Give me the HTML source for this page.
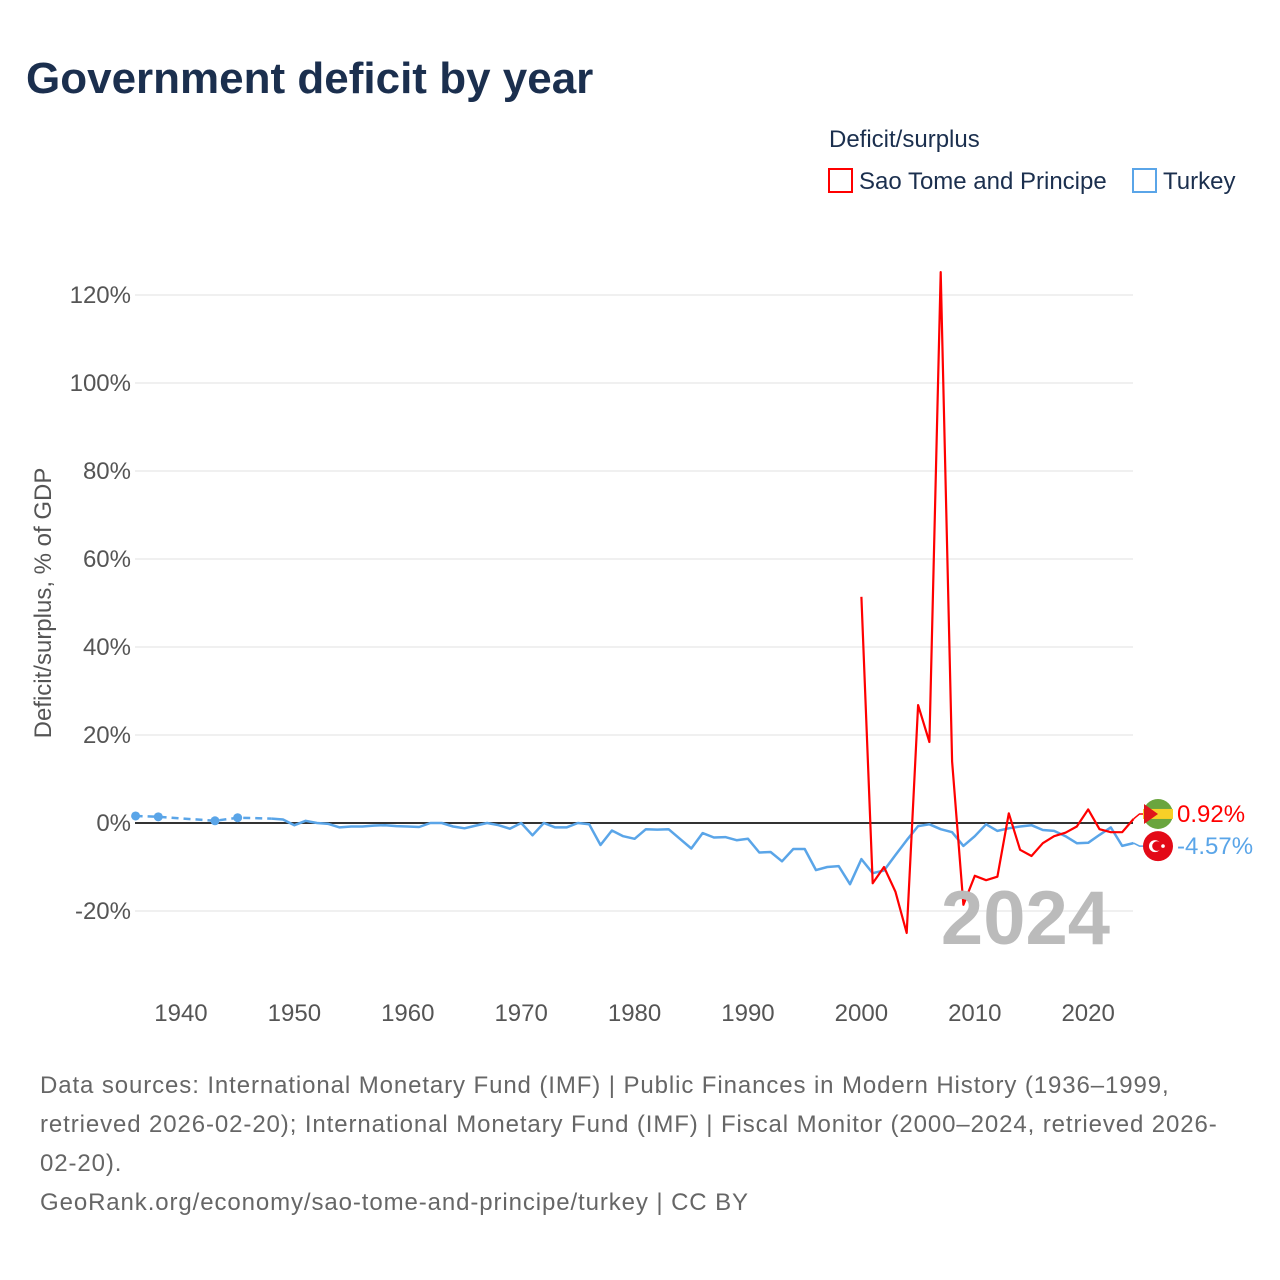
<!DOCTYPE html>
<html><head><meta charset="utf-8"><style>
body{margin:0;background:#fff;font-family:"Liberation Sans",sans-serif;}
#wrap{position:relative;width:1280px;height:1280px;overflow:hidden}
</style></head><body>
<div id="wrap">
<svg id="chart" width="1280" height="1280" xmlns="http://www.w3.org/2000/svg">
<text x="26" y="93" font-size="44" font-weight="bold" fill="#1b2f4e">Government deficit by year</text>
<text x="829" y="147" font-size="24" fill="#1b2f4e">Deficit/surplus</text>
<g><rect x="829" y="169" width="23" height="23" fill="none" stroke="#f00" stroke-width="2"/><text x="859" y="189" font-size="24" fill="#1b2f4e">Sao Tome and Principe</text></g>
<g><rect x="1133" y="169" width="23" height="23" fill="none" stroke="#5aa5e8" stroke-width="2"/><text x="1163" y="189" font-size="24" fill="#1b2f4e">Turkey</text></g>
<text transform="translate(51,603) rotate(-90)" text-anchor="middle" font-size="24" fill="#555">Deficit/surplus, % of GDP</text>
<g id="grid"></g><g id="series"></g>
<text x="1110" y="944" text-anchor="end" font-size="76" font-weight="bold" fill="#bbb">2024</text>
<g id="labels"></g>
<text font-size="24" fill="#666" letter-spacing="0.9"><tspan x="40" y="1093">Data sources: International Monetary Fund (IMF) | Public Finances in Modern History (1936–1999,</tspan><tspan x="40" y="1132">retrieved 2026-02-20); International Monetary Fund (IMF) | Fiscal Monitor (2000–2024, retrieved 2026-</tspan><tspan x="40" y="1171">02-20).</tspan><tspan x="40" y="1210">GeoRank.org/economy/sao-tome-and-principe/turkey | CC BY</tspan></text>
</svg></div>
<script>
const yTicks=[-20,0,20,40,60,80,100,120];
const xTicks=[1940,1950,1960,1970,1980,1990,2000,2010,2020];
const turkeyDashYears=[1936,1938,1943,1945,1948];
const turkeyDashVals=[1.6,1.4,0.5,1.2,1.0];
const turkeyYears=[1948,1949,1950,1951,1952,1953,1954,1955,1956,1957,1958,1959,1960,1961,1962,1963,1964,1965,1966,1967,1968,1969,1970,1971,1972,1973,1974,1975,1976,1977,1978,1979,1980,1981,1982,1983,1984,1985,1986,1987,1988,1989,1990,1991,1992,1993,1994,1995,1996,1997,1998,1999,2000,2001,2002,2003,2004,2005,2006,2007,2008,2009,2010,2011,2012,2013,2014,2015,2016,2017,2018,2019,2020,2021,2022,2023,2024];
const turkeyVals=[1.0,0.8,-0.5,0.5,0,-0.2,-1.0,-0.8,-0.8,-0.6,-0.5,-0.7,-0.8,-0.9,0,0,-0.8,-1.2,-0.6,0,-0.5,-1.3,0,-2.8,0,-1,-1,0,-0.3,-5,-1.7,-3,-3.6,-1.4,-1.5,-1.4,-3.6,-5.8,-2.3,-3.3,-3.2,-3.9,-3.6,-6.7,-6.6,-8.7,-5.9,-5.9,-10.7,-10,-9.8,-13.9,-8.2,-11.4,-10.8,-7.3,-3.9,-0.7,-0.3,-1.4,-2.1,-5.2,-3,-0.3,-1.8,-1.2,-0.8,-0.5,-1.6,-1.8,-3,-4.6,-4.5,-2.7,-1,-5.2,-4.57];
const stpYears=[2000,2001,2002,2003,2004,2005,2006,2007,2008,2009,2010,2011,2012,2013,2014,2015,2016,2017,2018,2019,2020,2021,2022,2023,2024];
const stpVals=[51.4,-13.7,-10,-15.6,-25,26.8,18.4,125.2,14,-18.6,-12,-13,-12.2,2.2,-6.1,-7.5,-4.6,-3,-2.2,-0.8,3.1,-1.4,-2.1,-2.1,0.92];
const X=yr=>135.6+(yr-1936)*11.34;
const Y=v=>823-v*4.4;
const NS="http://www.w3.org/2000/svg";
function mk(tag,attrs,parent){const e=document.createElementNS(NS,tag);for(const k in attrs)e.setAttribute(k,attrs[k]);parent.appendChild(e);return e;}
const grid=document.getElementById('grid'),ser=document.getElementById('series'),lab=document.getElementById('labels');
yTicks.forEach(t=>{
 const l=mk('line',{x1:135,x2:1133,y1:Y(t),y2:Y(t),stroke:'#e6e6e6','stroke-width':1.3},grid);
 
 
 const tx=mk('text',{x:131,y:Y(t)+8,'text-anchor':'end','font-size':24,fill:'#555'},grid);
 tx.textContent=t+'%';
 
 
});
xTicks.forEach(t=>{
 const tx=mk('text',{x:X(t),y:1021,'text-anchor':'middle','font-size':24,fill:'#555'},grid);
 tx.textContent=t;
 
 
});
const z=mk('line',{x1:135,x2:1133,y1:Y(0),y2:Y(0),stroke:'#333','stroke-width':2},grid);


const pts=(xs,vs)=>xs.map((y,i)=>X(y).toFixed(1)+','+Y(vs[i]).toFixed(1)).join(' ');
const td=mk('polyline',{points:pts(turkeyDashYears,turkeyDashVals),fill:'none',stroke:'#5aa5e8','stroke-width':2.5,'stroke-dasharray':'7,5'},ser);


turkeyDashYears.slice(0,4).forEach((y,i)=>{
 const c=mk('circle',{cx:X(y),cy:Y(turkeyDashVals[i]),r:4.5,fill:'#5aa5e8'},ser);
 
 
});
const tl=mk('polyline',{points:pts(turkeyYears,turkeyVals),fill:'none',stroke:'#5aa5e8','stroke-width':2.5,'stroke-linejoin':'round'},ser);


const sl=mk('polyline',{points:pts(stpYears,stpVals),fill:'none',stroke:'#f00','stroke-width':2.2,'stroke-linejoin':'round'},ser);


const sv=stpVals[stpVals.length-1],tv=turkeyVals[turkeyVals.length-1];
const sy=Y(sv)-5,ty=Y(tv)+3;
mk('polyline',{points:`${X(2024)},${Y(sv)} ${X(2024)+6},${sy} ${1143},${sy}`,fill:'none',stroke:'#f00','stroke-width':1.5},lab);
mk('polyline',{points:`${X(2024)},${Y(tv)} ${X(2024)+6},${ty} ${1143},${ty}`,fill:'none',stroke:'#5aa5e8','stroke-width':1.5},lab);
const f1=mk('g',{},lab);


mk('circle',{cx:1158,cy:sy,r:15,fill:'#6aa53e'},f1);
mk('rect',{x:1143,y:sy-5,width:30,height:10,fill:'#f7d027'},f1);
mk('path',{d:`M1144,${sy-10} L1158,${sy} L1144,${sy+10} Z`,fill:'#e0151b'},f1);
const t1=mk('text',{x:1177,y:sy+8,'font-size':24,fill:'#f00'},lab);
t1.textContent=sv.toFixed(2)+'%';


const f2=mk('g',{},lab);


mk('circle',{cx:1158,cy:ty,r:15,fill:'#e30a17'},f2);
mk('circle',{cx:1155,cy:ty,r:6,fill:'#fff'},f2);
mk('circle',{cx:1157,cy:ty,r:4.8,fill:'#e30a17'},f2);
mk('circle',{cx:1163,cy:ty,r:1.8,fill:'#fff'},f2);
const t2=mk('text',{x:1177,y:ty+8,'font-size':24,fill:'#5aa5e8'},lab);
t2.textContent=tv.toFixed(2)+'%';


</script>
</body></html>
